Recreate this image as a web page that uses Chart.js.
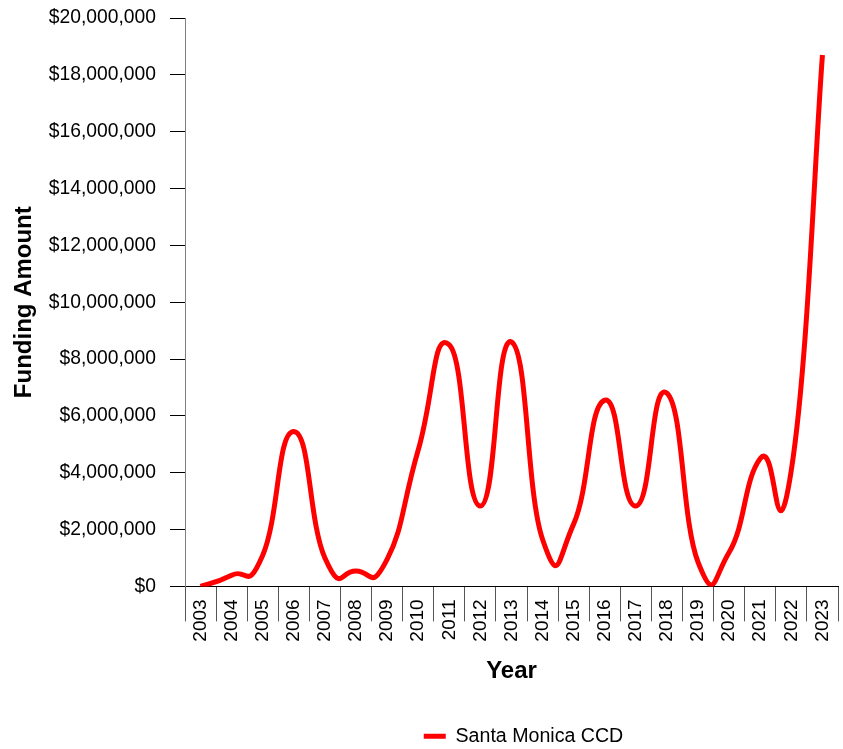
<!DOCTYPE html>
<html>
<head>
<meta charset="utf-8">
<script src="https://cdn.jsdelivr.net/npm/chart.js@4/dist/chart.umd.min.js"></script>
<style>
  html, body { margin: 0; padding: 0; background: #fff; }
  #wrap { width: 843px; height: 749px; position: relative; }
</style>
</head>
<body>
<div id="wrap"><canvas id="line-chart"></canvas></div>
<script>
// data
const years = ["2003", "2004", "2005", "2006", "2007", "2008", "2009", "2010", "2011", "2012",
  "2013", "2014", "2015", "2016", "2017", "2018", "2019", "2020", "2021", "2022", "2023"];
const funding = [0, 390000, 1100000, 5450000, 1000000, 540000, 950000, 4800000, 8500000, 2830000,
  8600000, 1650000, 2200000, 6550000, 2830000, 6800000, 850000, 1200000, 4500000, 4100000, 18700000];
const seriesLabel = "Santa Monica CCD";
const yMax = 20000000;
const yStep = 2000000;

const FONT = '"Liberation Sans", Arial, sans-serif';

// the reference curve is a cardinal spline (tension 0.8), so set the bezier
// control points that way instead of chart.js's distance weighted ones
const SPLINE_TENSION = 0.8;
const cardinalSpline = {
  id: "cardinalSpline",
  afterLayout(chart) {
    // legend sits a little right of the plot centre in the reference
    if (chart.legend) {
      chart.legend.left += 12;
      chart.legend.right += 12;
    }
  },
  beforeDatasetDraw(chart, args) {
    const pts = args.meta.data;
    const k = SPLINE_TENSION / 3;
    pts.forEach((p, i) => {
      const prev = pts[i - 1] || p;
      const next = pts[i + 1] || p;
      const dx = next.x - prev.x;
      const dy = next.y - prev.y;
      p.cp1x = p.x - k * dx;
      p.cp1y = p.y - k * dy;
      p.cp2x = p.x + k * dx;
      p.cp2y = p.y + k * dy;
    });
    args.meta.dataset._pointsUpdated = true;
  },
};

const canvas = document.getElementById("line-chart");
new Chart(canvas, {
  type: "line",
  data: {
    labels: years,
    datasets: [
      {
        label: seriesLabel,
        data: funding,
        borderColor: "#ff0000",
        backgroundColor: "#ff0000",
        borderWidth: 5,
        tension: 0.4,
        pointRadius: 0,
        pointHoverRadius: 0,
        clip: { left: 10, top: 10, right: 10, bottom: 0 },
      },
    ],
  },
  options: {
    responsive: true,
    maintainAspectRatio: false,
    animation: false,
    layout: { padding: { top: 18, right: 5, left: 0, bottom: -7 } },
    plugins: {
      tooltip: { enabled: false },
      legend: {
        position: "bottom",
        fullSize: false,
        labels: {
          color: "#000",
          font: { family: FONT, size: 19.6 },
          boxWidth: 22,
          boxHeight: 5,
          padding: 0,
          generateLabels: (chart) => [
            {
              text: seriesLabel,
              fillStyle: "#ff0000",
              strokeStyle: "#ff0000",
              lineWidth: 0,
              datasetIndex: 0,
            },
          ],
        },
      },
    },
    scales: {
      x: {
        offset: true,
        afterFit: (scale) => {
          scale.height = 140;
        },
        border: { display: true, color: "#000", width: 1 },
        grid: {
          offset: true,
          drawOnChartArea: false,
          drawTicks: true,
          tickLength: 35,
          color: "#555",
          lineWidth: 1,
        },
        ticks: {
          color: "#000",
          font: { family: FONT, size: 19 },
          minRotation: 90,
          maxRotation: 90,
          autoSkip: false,
          padding: -22,
        },
        title: {
          display: true,
          text: "Year",
          color: "#000",
          font: { family: FONT, size: 24, weight: "bold" },
          padding: { top: 0, bottom: 41 },
        },
      },
      y: {
        min: 0,
        max: yMax,
        afterFit: (scale) => {
          scale.width = 185;
          // tick padding should only push labels sideways, not the plot top down
          scale.paddingTop = 0;
          scale.paddingBottom = 0;
        },
        border: { display: true, color: "#808080", width: 1 },
        grid: {
          drawOnChartArea: false,
          drawTicks: true,
          tickLength: 15,
          tickColor: "#000",
        },
        ticks: {
          stepSize: yStep,
          color: "#000",
          font: { family: FONT, size: 19.3 },
          padding: 14,
          callback: (v) => "$" + Number(v).toLocaleString("en-US"),
        },
        title: {
          display: true,
          text: "Funding Amount",
          color: "#000",
          font: { family: FONT, size: 24, weight: "bold" },
          padding: { top: 10, bottom: 4 },
        },
      },
    },
  },
  plugins: [cardinalSpline],
});
</script>
</body>
</html>
